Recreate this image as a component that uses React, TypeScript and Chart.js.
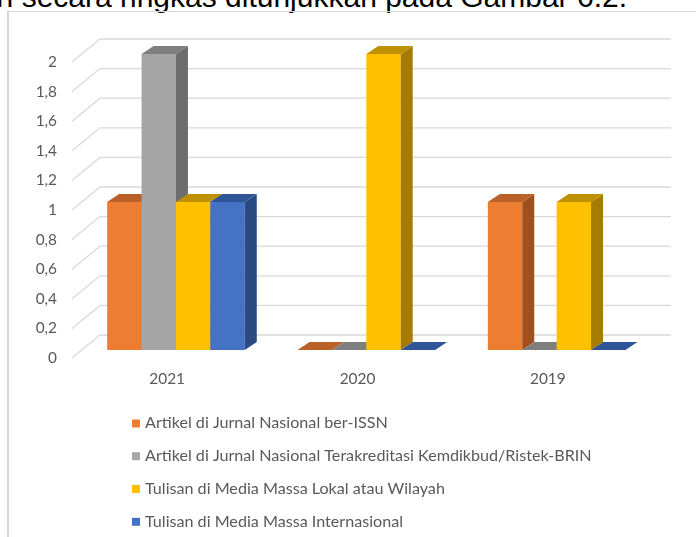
import React, { useEffect, useRef } from 'react';
import { Chart, registerables } from 'chart.js';

Chart.register(...registerables);

// ---------- data ----------
const categories = ['2021', '2020', '2019'];
const seriesNames = [
  'Artikel di Jurnal Nasional ber-ISSN',
  'Artikel di Jurnal Nasional Terakreditasi Kemdikbud/Ristek-BRIN',
  'Tulisan di Media Massa Lokal atau Wilayah',
  'Tulisan di Media Massa Internasional',
];
const jurnalIssn = [1, 0, 1];
const jurnalTerakreditasi = [2, 0, 0];
const mediaLokal = [1, 2, 1];
const mediaInternasional = [1, 0, 0];
const yTicks = [0, 0.2, 0.4, 0.6, 0.8, 1, 1.2, 1.4, 1.6, 1.8, 2];

// ---------- styles ----------
const FRONT = ['#ED7D31', '#A5A5A5', '#FFC000', '#4472C4'];
const TOP = ['#BA6029', '#7F7F7F', '#BF9000', '#2F5597'];
const SIDE = ['#9F501F', '#6D6D6D', '#A67C00', '#294A82'];
const TEXT = '#595959';
const GRID = '#D9D9D9';

const WALL_DX = 28;
const WALL_DY = -23;
const BAR_DX = 8.8;
const BAR_DY = -8;
const DEPTH_DX = 12;
const DEPTH_DY = -8;

const LEGEND_MARK_X = 132;
const LEGEND_TEXT_X = 145;
const LEGEND_BASELINES = [428.3, 461, 493.8, 526.6];

function fitFont(family: string, text: string, target: number) {
  const c = document.createElement('canvas').getContext('2d')!;
  c.font = `100px ${family}`;
  const w = c.measureText(text).width;
  return w > 0 ? (100 * target) / w : 16;
}

export default function App() {
  const ref = useRef<HTMLCanvasElement | null>(null);

  useEffect(() => {
    const canvas = ref.current;
    if (!canvas) return;
    const fsLegend = fitFont('Lato', seriesNames[1], 447);
    const fsAxis = fitFont('Lato', '2021', 35.7);

    const threeD = {
      id: 'threeD',
      beforeDatasetsDraw(chart: any) {
        const ctx = chart.ctx as CanvasRenderingContext2D;
        const ys = chart.scales.y;
        const { left, right } = chart.chartArea;
        ctx.save();
        ctx.strokeStyle = GRID;
        ctx.lineWidth = 1.3;
        for (const t of ys.ticks) {
          const py = ys.getPixelForValue(t.value);
          ctx.beginPath();
          ctx.moveTo(left, py);
          ctx.lineTo(left + WALL_DX, py + WALL_DY);
          ctx.lineTo(right + WALL_DX, py + WALL_DY);
          ctx.stroke();
        }
        chart.data.datasets.forEach((_ds: any, i: number) => {
          const meta = chart.getDatasetMeta(i);
          meta.data.forEach((bar: any) => {
            const p = bar.getProps(['x', 'y', 'base', 'width'], true);
            const l = p.x - p.width / 2 + BAR_DX;
            const r = p.x + p.width / 2 + BAR_DX;
            const t = p.y + BAR_DY;
            const b = p.base + BAR_DY;
            if (b - t > 0.5) {
              ctx.fillStyle = FRONT[i];
              ctx.fillRect(l, t, r - l, b - t);
              ctx.fillStyle = SIDE[i];
              ctx.beginPath();
              ctx.moveTo(r, t);
              ctx.lineTo(r + DEPTH_DX, t + DEPTH_DY);
              ctx.lineTo(r + DEPTH_DX, b + DEPTH_DY);
              ctx.lineTo(r, b);
              ctx.closePath();
              ctx.fill();
            }
            ctx.fillStyle = TOP[i];
            ctx.beginPath();
            ctx.moveTo(l, t);
            ctx.lineTo(l + DEPTH_DX, t + DEPTH_DY);
            ctx.lineTo(r + DEPTH_DX, t + DEPTH_DY);
            ctx.lineTo(r, t);
            ctx.closePath();
            ctx.fill();
          });
        });
        ctx.restore();
        return false;
      },
      afterDraw(chart: any) {
        const ctx = chart.ctx as CanvasRenderingContext2D;
        ctx.save();
        ctx.font = `${fsLegend}px Lato`;
        ctx.textBaseline = 'alphabetic';
        ctx.textAlign = 'left';
        chart.data.datasets.forEach((ds: any, i: number) => {
          const by = LEGEND_BASELINES[i];
          ctx.fillStyle = FRONT[i];
          ctx.fillRect(LEGEND_MARK_X, by - 8.8, 8, 8);
          ctx.fillStyle = TEXT;
          ctx.fillText(ds.label, LEGEND_TEXT_X, by);
        });
        ctx.restore();
      },
    };

    const series = [jurnalIssn, jurnalTerakreditasi, mediaLokal, mediaInternasional];
    const chart = new Chart(canvas, {
      type: 'bar',
      data: {
        labels: categories,
        datasets: series.map((d, i) => ({
          label: seriesNames[i],
          data: d,
          backgroundColor: FRONT[i],
          categoryPercentage: 0.723,
          barPercentage: 1,
        })),
      },
      options: {
        responsive: false,
        animation: false,
        layout: { padding: { top: 62, right: 53, left: 0, bottom: 0 } },
        plugins: { legend: { display: false }, tooltip: { enabled: false } },
        scales: {
          x: {
            grid: { display: false, drawTicks: false },
            border: { display: false },
            ticks: { color: TEXT, font: { family: 'Lato', size: fsAxis }, padding: 12 },
            afterFit: (s: any) => {
              s.height = 179;
            },
          },
          y: {
            min: 0,
            max: 2,
            grid: { display: false, drawTicks: false },
            border: { display: false },
            ticks: {
              color: TEXT,
              font: { family: 'Lato', size: fsAxis },
              padding: 15,
              callback: (v: any) => String(Math.round(Number(v) * 10) / 10).replace('.', ','),
            },
            afterBuildTicks: (s: any) => {
              s.ticks = yTicks.map((v) => ({ value: v }));
            },
            afterFit: (s: any) => {
              s.width = 72;
            },
          },
        },
      } as any,
      plugins: [threeD as any],
    });
    return () => chart.destroy();
  }, []);

  return (
    <div
      style={{
        position: 'fixed',
        left: 0,
        top: 0,
        width: 696,
        height: 537,
        overflow: 'hidden',
        background: '#fff',
      }}
    >
      <div
        style={{
          position: 'absolute',
          right: 69,
          top: -18,
          whiteSpace: 'nowrap',
          fontFamily: '"Liberation Sans", Arial, sans-serif',
          fontSize: 30,
          lineHeight: '30px',
          color: '#000',
        }}
      >
        kan secara ringkas ditunjukkan pada Gambar 6.2.
      </div>
      <div
        style={{
          position: 'absolute',
          left: 7,
          top: 11,
          width: 700,
          height: 600,
          borderLeft: '2px solid #D6D6D6',
          borderTop: '1.5px solid #D6D6D6',
        }}
      />
      <canvas
        ref={ref}
        width={696}
        height={537}
        style={{ position: 'absolute', left: 0, top: 0, width: 696, height: 537 }}
      />
    </div>
  );
}
